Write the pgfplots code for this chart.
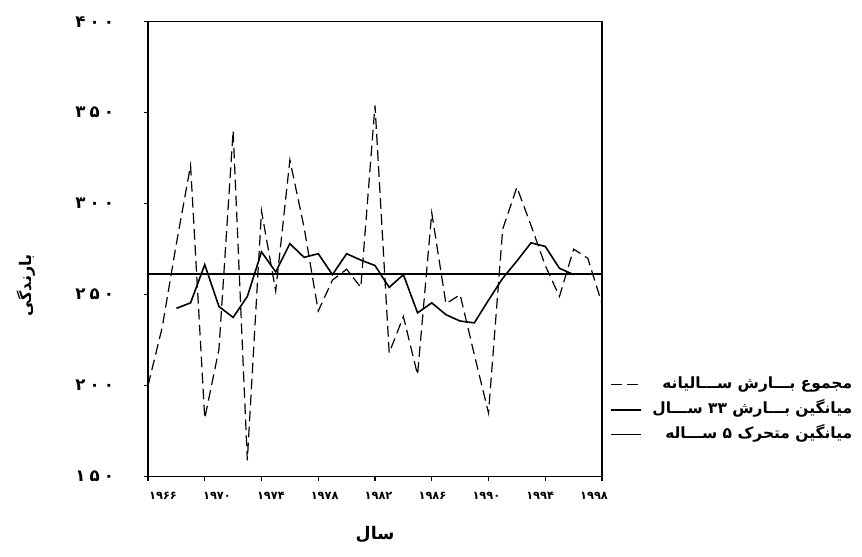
\documentclass[border=0pt]{standalone}
\usepackage{fontspec}
\usepackage{pgfplots}
\usepackage{pgfplotstable}
\pgfplotsset{compat=1.18}
\TeXXeTstate=1
\newfontfamily\arabicfont[Script=Arabic]{DejaVu Sans}
\newcommand{\fa}[1]{\beginR #1\endR}

% annual precipitation (mm)
\pgfplotstableread{
year rain
1966 200
1967 232
1968 278
1969 321
1970 182
1971 220
1972 340
1973 159
1974 296
1975 252
1976 324
1977 287
1978 241
1979 258
1980 264
1981 254
1982 354
1983 218
1984 238
1985 206
1986 295
1987 245
1988 250
1989 217
1990 185
1991 286
1992 309
1993 288
1994 266
1995 249
1996 275
1997 270
1998 245
}\annual

% 5-year moving average
\pgfplotstableread{
year ma
1968 242.5
1969 245.5
1970 266.5
1971 243.5
1972 237.5
1973 249
1974 273.5
1975 262.5
1976 278
1977 270.5
1978 272.5
1979 261
1980 272.5
1981 269
1982 266
1983 254
1984 261
1985 240
1986 245.5
1987 239
1988 235.5
1989 234.5
1990 247
1991 259
1992 268.5
1993 278.5
1994 276.5
1995 264.5
1996 261
}\moving

\begin{document}
\begin{tikzpicture}
\path[use as bounding box] (0,0) rectangle (646.5pt,417pt);
\begin{axis}[
  at={(111pt,59.5pt)}, anchor=south west,
  scale only axis, width=340.5pt, height=341.25pt,
  xmin=1966, xmax=1998, ymin=150, ymax=400,
  axis line style={line width=1pt},
  tick align=outside, xtick pos=left, ytick pos=left,
  major tick length=3pt,
  every tick/.style={black, line width=0.8pt},
  xtick={1966,1970,...,1998}, xticklabels={},
  extra x ticks={1967.06,1970.86,1974.66,1978.45,1982.25,1986.05,1989.85,1993.64,1997.44},
  extra x tick labels={۱۹۶۶,۱۹۷۰,۱۹۷۴,۱۹۷۸,۱۹۸۲,۱۹۸۶,۱۹۹۰,۱۹۹۴,۱۹۹۸},
  extra x tick style={tick style={draw=none}},
  xticklabel style={font=\arabicfont\bfseries\fontsize{8.5}{9}\selectfont, yshift=-5pt},
  ytick={150,200,...,400},
  yticklabels={۱\kern3pt۵\kern3pt۰,۲\kern3pt۰\kern3pt۰,۲\kern3pt۵\kern3pt۰,۳\kern3pt۰\kern3pt۰,۳\kern3pt۵\kern3pt۰,۴\kern3pt۰\kern3pt۰},
  yticklabel style={font=\arabicfont\bfseries\fontsize{12.5}{14}\selectfont, xshift=-19pt},
  xlabel={\fa{سال}},
  ylabel={\fa{بارندگی}},
  every axis x label/.style={at={([yshift=-43.5pt]rel axis cs:0.5,0)}, anchor=center,
    font=\arabicfont\bfseries\fontsize{13}{15}\selectfont},
  every axis y label/.style={at={([xshift=-91pt]rel axis cs:0,0.42)}, anchor=center, rotate=90,
    font=\arabicfont\bfseries\fontsize{12}{14}\selectfont},
  legend cell align=right,
  legend image code/.code={\draw[#1] (0pt,0pt) -- (22pt,0pt);},
  legend style={at={([xshift=6pt]rel axis cs:1,0.2235)}, anchor=north west,
    draw=none, fill=none, inner sep=0pt, row sep=4.75pt,
    font=\arabicfont\bfseries\fontsize{11.6}{14}\selectfont,
    nodes={inner ysep=0pt, text height=10pt, text depth=4pt},
    /tikz/every odd column/.append style={column sep=6pt}},
]
\addplot[black, line width=0.9pt, dash pattern=on 8pt off 4pt] table[x=year,y=rain]{\annual};
\addlegendentry{\fa{مجموع بـــارش ســـالیانه}}
\addplot[black, line width=1.6pt] coordinates {(1966,261.5) (1998,261.5)};
\addlegendentry{\fa{میانگین بـــارش ۳۳ ســـال}}
\addplot[black, line width=1.2pt] table[x=year,y=ma]{\moving};
\addlegendentry{\fa{میانگین متحرک ۵ ســـاله}}
\end{axis}
\end{tikzpicture}
\end{document}
